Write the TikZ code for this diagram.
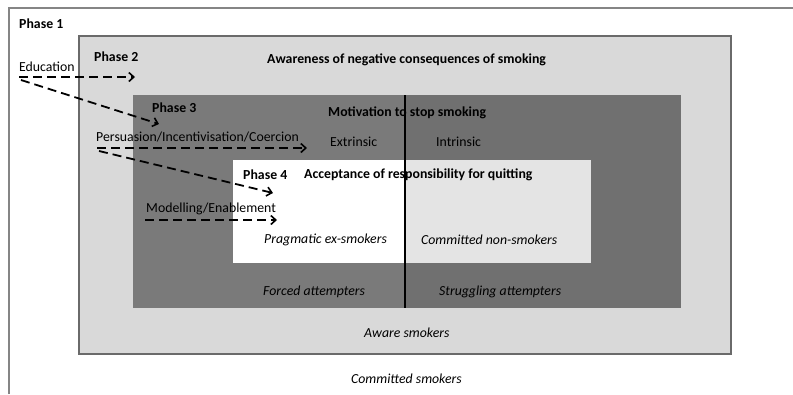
\documentclass[tikz,border=0pt]{standalone}
\usepackage{fontspec}
\setmainfont{Carlito}
\usetikzlibrary{arrows.meta}
\definecolor{ptwo}{HTML}{D9D9D9}
\definecolor{pthreeL}{HTML}{7A7A7A}
\definecolor{pthreeR}{HTML}{707070}
\definecolor{pfourR}{HTML}{E4E4E4}
\definecolor{frame}{HTML}{858585}
\tikzset{
  lbl/.style={anchor=west, inner sep=0pt, font=\fontsize{13.8}{16}\selectfont},
  blbl/.style={lbl, font=\fontsize{13.8}{16}\selectfont\bfseries},
  ilbl/.style={lbl, font=\fontsize{13.8}{16}\selectfont\itshape},
  flow/.style={line width=1.8pt, dash pattern=on 9pt off 5pt, -{Straight Barb[length=5pt,width=9pt,line width=1.6pt]}}
}
\begin{document}
\begin{tikzpicture}[x=1pt,y=-1pt]
\useasboundingbox (0,0) rectangle (793,394);
% Phase 1 frame (cut off right and bottom)
\draw[frame, line width=1.2pt] (9,394) -- (9,8) -- (793,8);
% Phase 2
\draw[fill=ptwo, draw=frame!80!black, line width=1.2pt] (79,36) rectangle (731,354);
% Phase 3
\fill[pthreeL] (133,95) rectangle (405,308);
\fill[pthreeR] (405,95) rectangle (681,308);
% Phase 4
\fill[white] (233,160) rectangle (405,263);
\fill[pfourR] (405,160) rectangle (591,263);
% divider
\draw[black, line width=1.6pt] (405,95) -- (405,308);

% labels
\node[blbl] (p1) at (19,24) {Phase 1};
\node[blbl] (p2) at (94,57) {Phase 2};
\node[blbl] (aw) at (267,60) {Awareness of negative consequences of smoking};
\node[lbl] (edu) at (19,67) {Education};
\node[blbl] (p3) at (152,108) {Phase 3};
\node[blbl] (mot) at (328,113) {Motivation to stop smoking};
\node[lbl] (pers) at (96,137) {Persuasion/Incentivisation/Coercion};
\node[lbl] (ext) at (330,142) {Extrinsic};
\node[lbl] (int) at (436,142) {Intrinsic};
\node[blbl] (p4) at (243,175) {Phase 4};
\node[blbl] (acc) at (304,175) {Acceptance of responsibility for quitting};
\node[lbl] (mod) at (146,209) {Modelling/Enablement};
\node[ilbl] (prag) at (264,240) {Pragmatic ex-smokers};
\node[ilbl] (comm) at (421,240) {Committed non-smokers};
\node[ilbl] (forc) at (263,292) {Forced attempters};
\node[ilbl] (strug) at (439,292) {Struggling attempters};
\node[ilbl] (aws) at (364,333) {Aware smokers};
\node[ilbl] (cs) at (351,379) {Committed smokers};

% arrow endpoints
\coordinate (e1s) at (19,77);
\coordinate (e1e) at (135,77);
\coordinate (e2s) at (21,80);
\coordinate (e2e) at (159,124);
\coordinate (q1s) at (97,148);
\coordinate (q1e) at (307,148);
\coordinate (q2s) at (99,151);
\coordinate (q2e) at (273,193);
\coordinate (m1s) at (145,220);
\coordinate (m1e) at (277,220);

\draw[flow] (e1s) -- (e1e);
\draw[flow] (e2s) -- (e2e);
\draw[flow] (q1s) -- (q1e);
\draw[flow] (q2s) -- (q2e);
\draw[flow] (m1s) -- (m1e);
\end{tikzpicture}
\end{document}
